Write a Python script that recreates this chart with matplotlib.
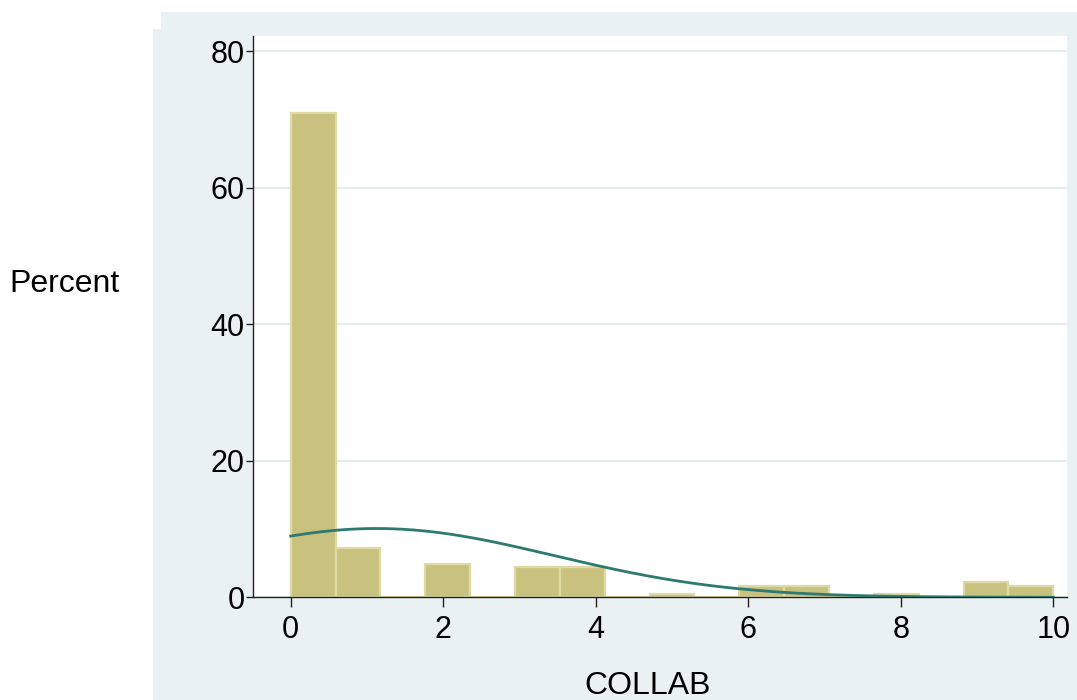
import numpy as np
import matplotlib
matplotlib.use("Agg")
import matplotlib.pyplot as plt
from matplotlib.patches import Rectangle

plt.rcParams['font.family'] = ['Liberation Sans', 'DejaVu Sans']

# COLLAB scores and the share of observations (percent) at each score
collab_values = [0, 1, 2, 3, 4, 5, 6, 7, 8, 9, 10]
percent_share = [71.0, 7.2, 4.9, 4.4, 4.4, 0.55, 1.65, 1.65, 0.55, 2.2, 1.65]
n_bins = 17
y_ticks = [0, 20, 40, 60, 80]
x_ticks = [0, 2, 4, 6, 8, 10]

BAR_FILL = '#C9C27F'
BAR_EDGE = '#DEDAA6'
CURVE = '#2C7A70'
PANEL = '#E9F1F3'
GRID = '#E5EDEF'

W, H = 1077, 700
fig = plt.figure(figsize=(W / 100, H / 100), dpi=100)
fig.patch.set_facecolor('white')

# graph region panel (with a notched upper-left corner)
fig.patches.append(Rectangle((161 / W, 1 - 29 / H), (W - 161) / W, 17 / H,
                             transform=fig.transFigure, facecolor=PANEL,
                             edgecolor='none', zorder=-5))
fig.patches.append(Rectangle((153 / W, 0), (W - 153) / W, 1 - 29 / H,
                             transform=fig.transFigure, facecolor=PANEL,
                             edgecolor='none', zorder=-5))

ax = fig.add_axes([253 / W, 1 - 597.3 / H, (1067 - 253) / W, (597.3 - 36) / H])
ax.set_zorder(2)
ax.set_facecolor('white')

# histogram with 17 equal-width bins over the observed range
edges = np.linspace(min(collab_values), max(collab_values), n_bins + 1)
heights, _ = np.histogram(collab_values, bins=edges, weights=percent_share)
width = edges[1] - edges[0]
ax.bar(edges[:-1], heights, width=width, align='edge', color=BAR_FILL,
       edgecolor=BAR_EDGE, linewidth=1.6, zorder=2)

# normal density with the sample mean and sd, scaled to percent per bin
vals = np.array(collab_values, dtype=float)
wts = np.array(percent_share) / np.sum(percent_share)
mu = np.sum(wts * vals)
sd = np.sqrt(np.sum(wts * (vals - mu) ** 2))
xs = np.linspace(min(collab_values), max(collab_values), 400)
dens = np.exp(-0.5 * ((xs - mu) / sd) ** 2) / (sd * np.sqrt(2 * np.pi))
ax.plot(xs, dens * width * 100, color=CURVE, linewidth=2.0, zorder=3)

ax.set_xlim(-0.495, 10.18)
ax.set_ylim(0, 82.27)
ax.set_xticks(x_ticks)
ax.set_yticks(y_ticks)
ax.set_xticklabels([str(t) for t in x_ticks])
ax.set_yticklabels([str(t) for t in y_ticks])

ax.yaxis.grid(True, color=GRID, linewidth=1.5, zorder=0)
ax.set_axisbelow(True)

for s in ['top', 'right']:
    ax.spines[s].set_visible(False)
for s in ['left', 'bottom']:
    ax.spines[s].set_color('#222222')
    ax.spines[s].set_linewidth(1.0)

ax.tick_params(axis='x', direction='out', length=7.5, width=1.0,
               color='#222222', labelsize=22, pad=5)
ax.tick_params(axis='y', direction='out', length=5, width=1.0,
               color='#222222', labelsize=22, pad=1)

fig.text(648 / W, 1 - 686 / H, 'COLLAB', fontsize=23, ha='center', va='center')
fig.text(65 / W, 1 - 284 / H, 'Percent', fontsize=23, ha='center', va='center')

fig.savefig('out.png', dpi=100, facecolor='white')
